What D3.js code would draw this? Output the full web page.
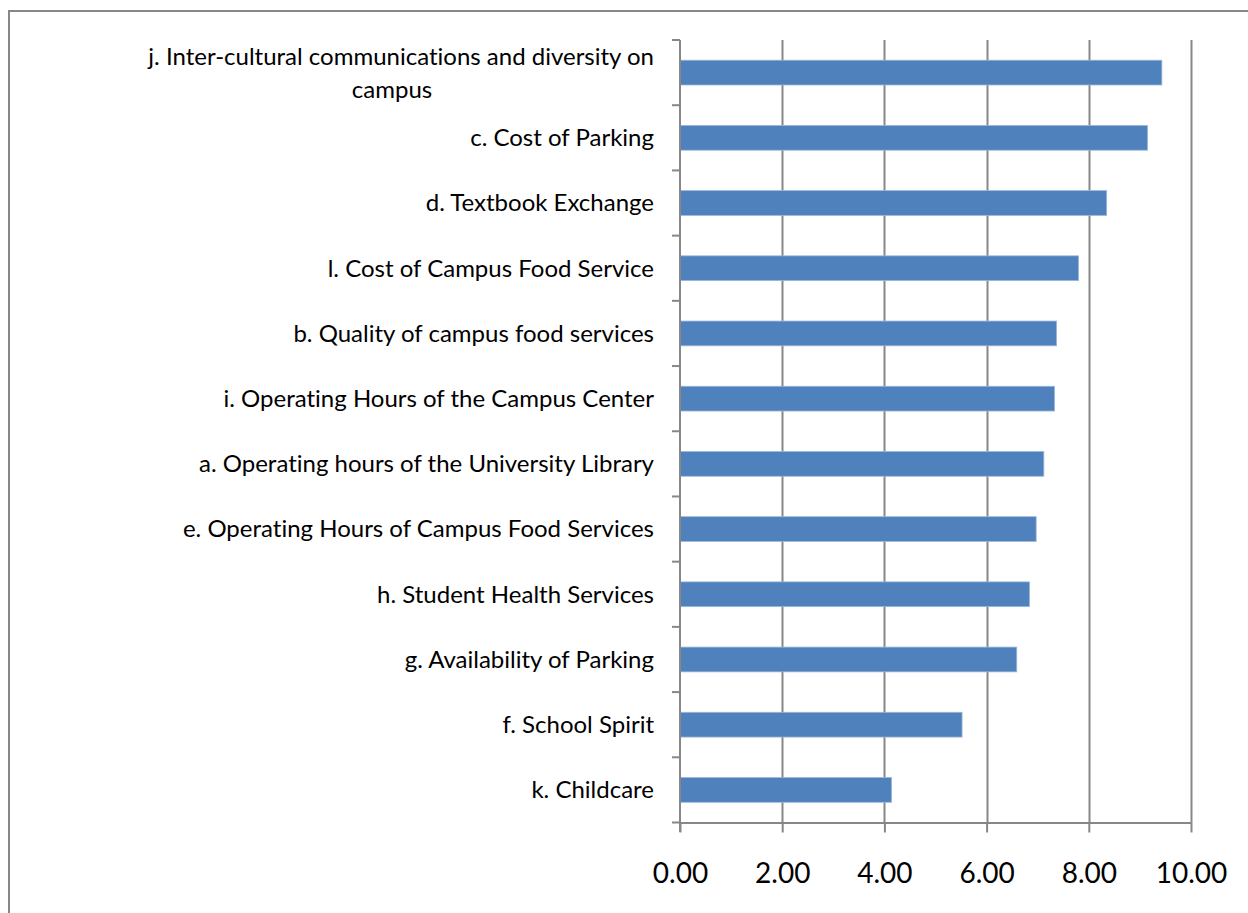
<!DOCTYPE html>
<html>
<head>
<meta charset="utf-8">
<script src="https://cdn.jsdelivr.net/npm/d3@7"></script>
<style>
  body { margin: 0; background: #fff; }
  svg { display: block; }
  text { font-variant-ligatures: none; }
</style>
</head>
<body>
<svg id="chart"></svg>
<script>
// categories top to bottom
const categories = [
  "j. Inter-cultural communications and diversity on campus",
  "c. Cost of Parking",
  "d. Textbook Exchange",
  "l. Cost of Campus Food Service",
  "b. Quality of campus food services",
  "i. Operating Hours of the Campus Center",
  "a. Operating hours of the University Library",
  "e. Operating Hours of Campus Food Services",
  "h. Student Health Services",
  "g. Availability of Parking",
  "f. School Spirit",
  "k. Childcare"
]
const values = [9.43, 9.15, 8.35, 7.80, 7.37, 7.33, 7.12, 6.97, 6.84, 6.59, 5.52, 4.14]
const xTicks = [0, 2, 4, 6, 8, 10]

// the long first label is wrapped in two lines
const labelLines = {
  "j. Inter-cultural communications and diversity on campus": ["j. Inter-cultural communications and diversity on", "campus"]
}

const width = 1248
const height = 913
const font = "Lato, 'Open Sans', sans-serif"
const labelSize = 24

const svg = d3.select('#chart')
  .attr('width', width)
  .attr('height', height)

// outer chart border (runs off the right and bottom)
svg.append('rect')
  .attr('x', 9)
  .attr('y', 11)
  .attr('width', 1400)
  .attr('height', 1200)
  .attr('fill', 'none')
  .attr('stroke', '#878787')
  .attr('stroke-width', 2)

const x = d3.scaleLinear()
  .domain([0, 10])
  .range([680, 1191])

const y = d3.scaleBand()
  .domain(categories)
  .range([40, 822.5])
  .paddingInner(0.62)
  .paddingOuter(0.31)

const gridColor = '#878787'

// vertical gridlines
svg.append('g')
  .selectAll('line')
  .data(xTicks.filter(d => d > 0))
  .enter()
  .append('line')
  .attr('x1', d => Math.round(x(d)) + 0.5)
  .attr('x2', d => Math.round(x(d)) + 0.5)
  .attr('y1', 40)
  .attr('y2', 822.5)
  .attr('stroke', gridColor)
  .attr('stroke-width', 2)

// bars
svg.append('g')
  .selectAll('rect')
  .data(categories)
  .enter()
  .append('rect')
  .attr('x', x(0))
  .attr('y', d => y(d))
  .attr('width', (d, i) => x(values[i]) - x(0))
  .attr('height', y.bandwidth())
  .attr('fill', '#4F81BD')
  .attr('stroke', '#9db7d9')
  .attr('stroke-width', 0.8)

// x axis
const xAxis = svg.append('g')
  .attr('transform', 'translate(0,822.5)')
  .call(d3.axisBottom(x).tickValues(xTicks).tickSize(10).tickSizeOuter(0).tickFormat(d3.format('.2f')))
xAxis.select('.domain').attr('stroke', gridColor).attr('stroke-width', 2)
xAxis.selectAll('.tick line').attr('stroke', gridColor).attr('stroke-width', 2)
xAxis.selectAll('.tick text')
  .attr('y', 41)
  .attr('dy', '0.71em')
  .attr('fill', '#000')
  .style('font-family', font)
  .style('font-size', '28px')

// y axis: line plus ticks at the band edges
const edges = d3.range(categories.length + 1).map(i => 40 + i * (782.5 / categories.length))
svg.append('line')
  .attr('x1', x(0))
  .attr('x2', x(0))
  .attr('y1', 40)
  .attr('y2', 832)
  .attr('stroke', gridColor)
  .attr('stroke-width', 2)
svg.append('g')
  .selectAll('line')
  .data(edges)
  .enter()
  .append('line')
  .attr('x1', 672)
  .attr('x2', x(0))
  .attr('y1', d => d)
  .attr('y2', d => d)
  .attr('stroke', gridColor)
  .attr('stroke-width', 2)

// category labels
const labels = svg.append('g')
  .selectAll('text')
  .data(categories)
  .enter()
  .append('text')
  .attr('fill', '#000')
  .style('font-family', font)
  .style('font-size', labelSize + 'px')
  .attr('y', d => y(d) + y.bandwidth() / 2)

labels.each(function (d) {
  const lines = labelLines[d] || [d]
  const t = d3.select(this)
  const lh = 33
  lines.forEach((ln, i) => {
    t.append('tspan')
      .attr('x', lines.length > 1 && i > 0 ? 392 : 654)
      .attr('text-anchor', lines.length > 1 && i > 0 ? 'middle' : 'end')
      .attr('dy', i === 0 ? ((0.35 - (lines.length - 1) / 2 * lh / labelSize) + 'em') : lh + 'px')
      .text(ln)
  })
})
</script>
</body>
</html>
